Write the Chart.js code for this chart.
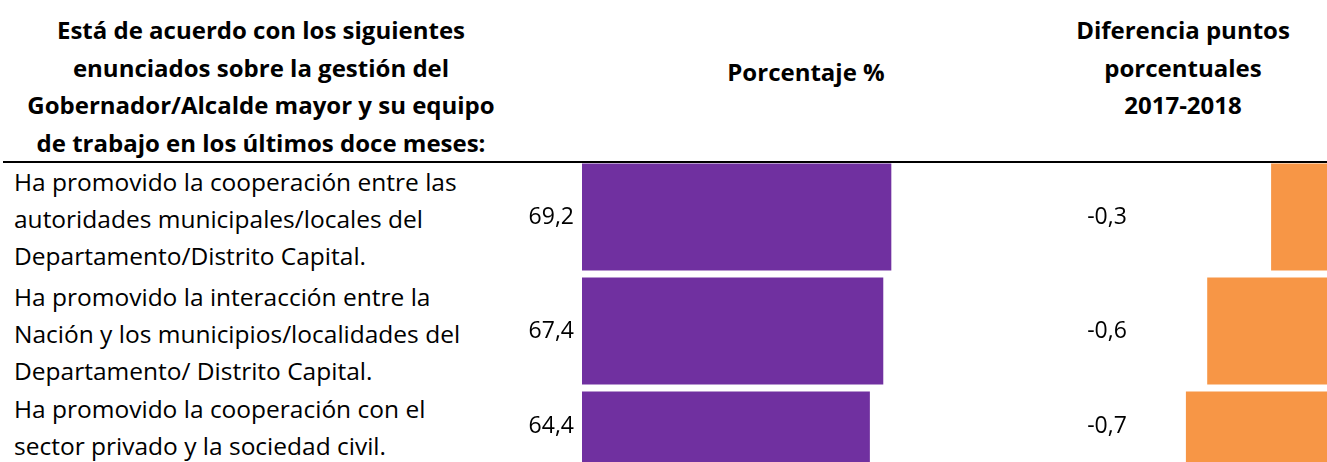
<!DOCTYPE html>
<html>
<head>
<meta charset="utf-8">
<script src="https://cdn.jsdelivr.net/npm/chart.js@4.4.1/dist/chart.umd.min.js"></script>
<style>
  body { margin: 0; width: 1327px; height: 462px; overflow: hidden; position: relative; background: #fff; color: #000; font-family: 'Open Sans', sans-serif; }
  .hd { position: absolute; font-weight: bold; font-size: 24px; line-height: 37.5px; text-align: center; white-space: nowrap; }
  .row { position: absolute; left: 14px; font-size: 24.5px; line-height: 37px; white-space: nowrap; }
  #rule { position: absolute; left: 3px; top: 161px; width: 1324px; height: 2px; background: #000; z-index: 2; }
  canvas { position: absolute; top: 160px; }
  #pctChart { left: 520px; }
  #diffChart { left: 1040px; }
</style>
</head>
<body>
<div class="hd" id="hdStatement" style="left:0; top:11px; width:522px;"></div>
<div class="hd" id="hdPct" style="left:656px; top:53px; width:300px;"></div>
<div class="hd" id="hdDiff" style="left:1033px; top:11px; width:300px;"></div>
<div id="rule"></div>
<div id="rows"></div>
<canvas id="pctChart" width="520" height="342"></canvas>
<canvas id="diffChart" width="310" height="342"></canvas>
<script>
// textos de encabezado
const headerStatement = ['Está de acuerdo con los siguientes', 'enunciados sobre la gestión del', 'Gobernador/Alcalde mayor y su equipo', 'de trabajo en los últimos doce meses:'];
const headerPct = ['Porcentaje %'];
const headerDiff = ['Diferencia puntos', 'porcentuales', '2017-2018'];

// enunciados (una fila por barra)
const statements = [
    ['Ha promovido la cooperación entre las', 'autoridades municipales/locales del', 'Departamento/Distrito Capital.'],
    ['Ha promovido la interacción entre la', 'Nación y los municipios/localidades del', 'Departamento/ Distrito Capital.'],
    ['Ha promovido la cooperación con el', 'sector privado y la sociedad civil.']
];
const percentages = [69.2, 67.4, 64.4];
const differences = [-0.3, -0.6, -0.7];

const rowTops = [163, 278, 390];

document.getElementById('hdStatement').innerHTML = headerStatement.join('<br>');
document.getElementById('hdPct').innerHTML = headerPct.join('<br>');
document.getElementById('hdDiff').innerHTML = headerDiff.join('<br>');

const rowsBox = document.getElementById('rows');
statements.forEach((lines, i) => {
    const div = document.createElement('div');
    div.className = 'row';
    div.style.top = rowTops[i] + 'px';
    div.innerHTML = lines.join('<br>');
    rowsBox.appendChild(div);
});

const fmt = v => v.toFixed(1).replace('.', ',');

// etiquetas de valor, centradas en la parte visible de cada barra
const valueLabels = {
    id: 'valueLabels',
    afterDatasetsDraw(chart, args, opts) {
        const ctx = chart.ctx;
        const area = chart.chartArea;
        const visibleBottom = Math.min(area.bottom, window.innerHeight - chart.canvas.getBoundingClientRect().top);
        const meta = chart.getDatasetMeta(0);
        ctx.save();
        ctx.font = '23px "Open Sans"';
        ctx.fillStyle = '#000';
        ctx.textBaseline = 'middle';
        ctx.textAlign = opts.align;
        meta.data.forEach((bar, i) => {
            const top = bar.y - bar.height / 2;
            const bottom = Math.min(bar.y + bar.height / 2, visibleBottom);
            ctx.fillText(fmt(chart.data.datasets[0].data[i]), area.left + opts.offset, (top + bottom) / 2);
        });
        ctx.restore();
    }
};

function makeBarChart(canvasId, values, color, xMin, xMax, padding, labelOpts) {
    return new Chart(document.getElementById(canvasId), {
        type: 'bar',
        data: {
            labels: statements.map(s => s.join(' ')),
            datasets: [{
                data: values,
                backgroundColor: color,
                borderWidth: 0,
                barPercentage: 1,
                categoryPercentage: 107 / 114
            }]
        },
        options: {
            indexAxis: 'y',
            responsive: false,
            animation: false,
            layout: { padding: padding },
            scales: {
                x: { display: false, min: xMin, max: xMax },
                y: { display: false }
            },
            plugins: {
                legend: { display: false },
                tooltip: { enabled: false },
                valueLabels: labelOpts
            }
        },
        plugins: [valueLabels]
    });
}

makeBarChart('pctChart', percentages, '#7030A0', 0, 100,
    { left: 62, right: 11, top: 0, bottom: 0 }, { align: 'right', offset: -8 });
makeBarChart('diffChart', differences, '#F79646', -1, 0,
    { left: 82, right: 15, top: 0, bottom: 0 }, { align: 'center', offset: -15 });
</script>
</body>
</html>
